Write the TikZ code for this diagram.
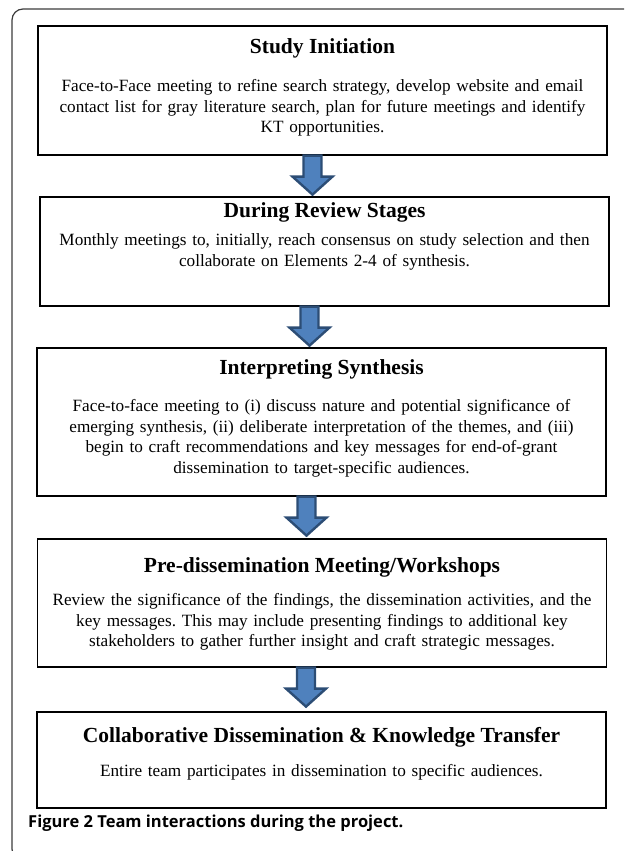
\documentclass[tikz,border=0pt]{standalone}
\usepackage{fontspec}
\setmainfont{Liberation Serif}
\newfontfamily\capfont{Open Sans}
\usetikzlibrary{positioning}
\frenchspacing
\definecolor{arrowfill}{RGB}{79,129,189}
\definecolor{arrowedge}{RGB}{44,77,117}
\definecolor{framegray}{RGB}{60,60,60}
\tikzset{
    stage/.style={rectangle, draw, line width=1.2pt, minimum width=569pt, inner sep=0pt},
    stagetitle/.style={inner sep=0pt, align=center, font=\fontsize{21.5}{25}\selectfont\bfseries},
    stagetext/.style={inner sep=0pt, text width=565pt, align=center, font=\fontsize{17.2}{20.5}\selectfont},
    blockarrow/.style={fill=arrowfill, draw=arrowedge, line width=2.4pt, line join=miter},
    downarrow/.pic={
        \draw[blockarrow] (-9,0) -- (9,0) -- (9,21) -- (20,21) -- (0,39) -- (-20,21) -- (-9,21) -- cycle;
    }
}

\begin{document}
\begin{tikzpicture}[x=1pt, y=-1pt]
    \useasboundingbox (0,0) rectangle (624,851);
    \clip (0,0) rectangle (624,851);
    \draw[framegray, line width=1.2pt, rounded corners=11pt] (12,9) rectangle (660,860);

    % stages
    \node[stage, minimum height=129pt] (initiation) at (322.5,90.5) {};
    \node[stagetitle, below=13pt of initiation.north] (initiationtitle) {Study Initiation};
    \node[stagetext, below=54pt of initiation.north] (initiationtext) {Face-to-Face meeting to refine search strategy, develop website and email\\ contact list for gray literature search, plan for future meetings and identify\\ KT opportunities.};

    \node[stage, minimum height=109pt] (review) at (324.5,251.5) {};
    \node[stagetitle, below=6pt of review.north] (reviewtitle) {During Review Stages};
    \node[stagetext, below=37pt of review.north] (reviewtext) {Monthly meetings to, initially, reach consensus on study selection and then\\ collaborate on Elements 2-4 of synthesis.};

    \node[stage, minimum height=148pt] (interpret) at (321.5,422) {};
    \node[stagetitle, below=12pt of interpret.north] (interprettitle) {Interpreting Synthesis};
    \node[stagetext, below=52pt of interpret.north] (interprettext) {Face-to-face meeting to (i) discuss nature and potential significance of\\ emerging synthesis, (ii) deliberate interpretation of the themes, and (iii)\\ begin to craft recommendations and key messages for end-of-grant\\ dissemination to target-specific audiences.};

    \node[stage, minimum height=128pt] (predissem) at (322,603) {};
    \node[stagetitle, below=19pt of predissem.north] (predissemtitle) {Pre-dissemination Meeting/Workshops};
    \node[stagetext, below=55pt of predissem.north] (predissemtext) {Review the significance of the findings, the dissemination activities, and the\\ key messages. This may include presenting findings to additional key\\ stakeholders to gather further insight and craft strategic messages.};

    \node[stage, minimum height=96pt] (dissem) at (321.5,760) {};
    \node[stagetitle, below=16pt of dissem.north] (dissemtitle) {Collaborative Dissemination \& Knowledge Transfer};
    \node[stagetext, below=53pt of dissem.north] (dissemtext) {Entire team participates in dissemination to specific audiences.};

    % arrows between stages
    \pic at ([xshift=-10pt]initiation.south) {downarrow};
    \pic at ([xshift=-15pt]review.south) {downarrow};
    \pic at ([xshift=-15pt]interpret.south) {downarrow};
    \pic at ([xshift=-16pt]predissem.south) {downarrow};

    \node[anchor=west, inner sep=0pt, font=\capfont\fontsize{16.5}{20}\selectfont\bfseries] (caption) at (28,823) {Figure 2 Team interactions during the project.};
\end{tikzpicture}
\end{document}
